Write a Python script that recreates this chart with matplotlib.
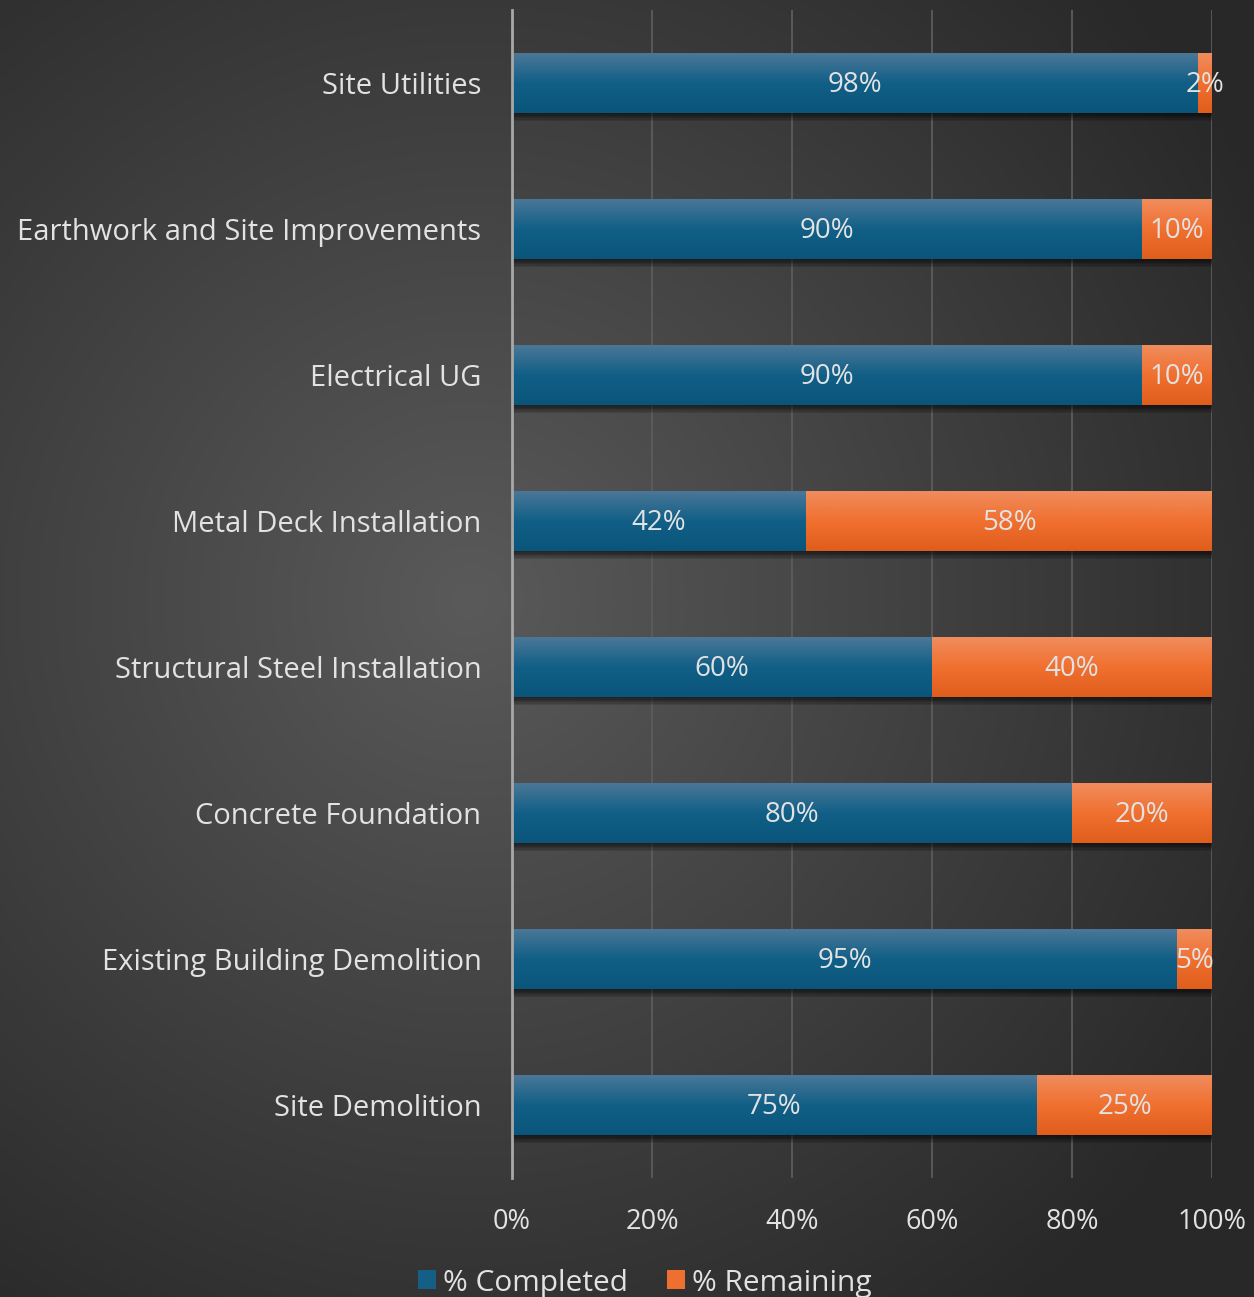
import numpy as np
import matplotlib

matplotlib.use("Agg")
import matplotlib.pyplot as plt
import matplotlib.patheffects as pe
from matplotlib.colors import LinearSegmentedColormap
from matplotlib.patches import Patch

# * данные
categories = [
    "Site Demolition",
    "Existing Building Demolition",
    "Concrete Foundation",
    "Structural Steel Installation",
    "Metal Deck Installation",
    "Electrical UG",
    "Earthwork and Site Improvements",
    "Site Utilities",
]
completed = [75, 95, 80, 60, 42, 90, 90, 98]
remaining = [25, 5, 20, 40, 58, 10, 10, 2]
ticks = [0, 20, 40, 60, 80, 100]
tick_labels = ["0%", "20%", "40%", "60%", "80%", "100%"]

text_color = "#e2e2e2"
font = ["Open Sans", "DejaVu Sans"]
plt.rcParams["font.family"] = font

fig = plt.figure(figsize=(12.54, 12.97), dpi=100)

# * радиальный градиент фона
bg = fig.add_axes([0, 0, 1, 1], zorder=-10)
bg.axis("off")
h, w = 1297, 1254
yy, xx = np.mgrid[0:h, 0:w]
r = np.sqrt(((xx - 470) / 900.0) ** 2 + ((yy - 600) / 900.0) ** 2)
r = np.clip(r, 0, 1)
light = np.array([0x5a, 0x5a, 0x5a]) / 255
dark = np.array([0x28, 0x28, 0x28]) / 255
img = light[None, None, :] * (1 - r[..., None]) + dark[None, None, :] * r[..., None]
bg.imshow(img, extent=[0, 1, 0, 1], aspect="auto")
bg.set_xlim(0, 1)
bg.set_ylim(0, 1)

ax = fig.add_axes([512 / 1254, 1 - 1178 / 1297, 700 / 1254, 1168 / 1297])
ax.set_facecolor("none")

y = np.arange(len(categories))
# * мягкая тень под полосами
shadow = [pe.SimplePatchShadow(offset=(0, -d), shadow_rgbFace="black", alpha=0.12)
          for d in (1, 2, 3, 4, 5, 6)] + [pe.Normal()]
bars_c = ax.barh(y, completed, height=0.41, color="#155f86", zorder=3, path_effects=shadow)
bars_r = ax.barh(y, remaining, left=completed, height=0.41, color="#ef6f2e", zorder=3,
                 path_effects=shadow)

blue_cmap = LinearSegmentedColormap.from_list("b", ["#0a557b", "#115f87", "#4a7797"])
orange_cmap = LinearSegmentedColormap.from_list("o", ["#e05e1c", "#f07030", "#f08c5c"])
grad = np.linspace(0, 1, 64).reshape(-1, 1)
for bars, cmap in [(bars_c, blue_cmap), (bars_r, orange_cmap)]:
    for p in bars:
        x0, y0 = p.get_x(), p.get_y()
        ax.imshow(grad, cmap=cmap, origin="lower", aspect="auto", zorder=4,
                  extent=[x0, x0 + p.get_width(), y0, y0 + p.get_height()])

for bars in (bars_c, bars_r):
    labels = ax.bar_label(bars, labels=[f"{v}%" for v in bars.datavalues],
                          label_type="center", color=text_color, fontsize=20)
    for t in labels:
        t.set_zorder(6)
        t.xyann = (0, -1.5)

ax.set_xlim(0, 100)
ax.set_ylim(-0.5, len(categories) - 0.5)
ax.set_yticks(y)
ax.set_yticklabels(categories, color=text_color, fontsize=21)
ax.set_xticks(ticks)
ax.set_xticklabels(tick_labels, color=text_color, fontsize=19.5)
ax.tick_params(axis="both", length=0)
ax.tick_params(axis="x", pad=21.5)
ax.tick_params(axis="y", pad=22)

ax.grid(axis="x", color="#5c5c5c", linewidth=1.3, zorder=1)
ax.set_axisbelow(True)
for s in ["top", "right", "bottom"]:
    ax.spines[s].set_visible(False)
ax.spines["left"].set_color("#a8a8a8")
ax.spines["left"].set_linewidth(2)
ax.spines["left"].set_zorder(5)

handles = [Patch(facecolor="#155f86", label="% Completed"),
           Patch(facecolor="#ef6f2e", label="% Remaining")]
fig.legend(handles=handles, loc="center", bbox_to_anchor=(645 / 1254, 1 - 1283 / 1297),
           ncol=2, frameon=False, fontsize=21.5, labelcolor=text_color,
           handlelength=0.6, handleheight=0.6, handletextpad=0.25, columnspacing=1.3,
           borderaxespad=0, borderpad=0)

fig.savefig("out.png", dpi=100)
plt.close(fig)
